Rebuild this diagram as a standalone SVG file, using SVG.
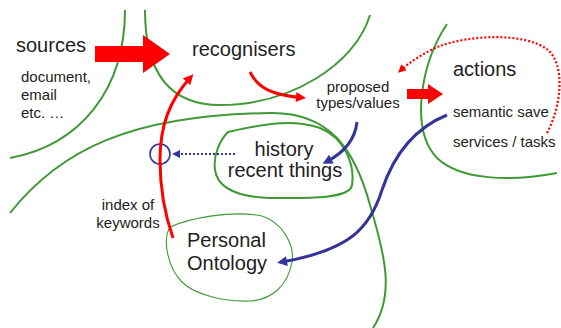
<svg xmlns="http://www.w3.org/2000/svg" width="561" height="328" viewBox="0 0 561 328">
<style>
.g{fill:none;stroke:#3f9a35;stroke-width:2}
.gt{fill:none;stroke:#3f9a35;stroke-width:1.1}
.r{fill:none;stroke:#ff0000;stroke-width:3}
.rd{fill:none;stroke:#ff0000;stroke-width:2.2;stroke-dasharray:2 2}
.b{fill:none;stroke:#33339a;stroke-width:3}
.bd{fill:none;stroke:#33339a;stroke-width:2.2;stroke-dasharray:2 2}
text{font-family:"Liberation Sans",Arial,sans-serif;fill:#222}
.L{font-size:20px}
.S{font-size:15px}
</style>
<defs>
<marker id="ar" viewBox="0 0 10 10" refX="5" refY="5" markerWidth="11" markerHeight="10" markerUnits="userSpaceOnUse" orient="auto"><path d="M0,0L10,5L0,10z" fill="#ff0000"/></marker>
<marker id="ars" viewBox="0 0 10 10" refX="5" refY="5" markerWidth="9" markerHeight="8" markerUnits="userSpaceOnUse" orient="auto"><path d="M0,0L10,5L0,10z" fill="#ff0000"/></marker>
<marker id="ab" viewBox="0 0 10 10" refX="5" refY="5" markerWidth="11" markerHeight="10" markerUnits="userSpaceOnUse" orient="auto"><path d="M0,0L10,5L0,10z" fill="#33339a"/></marker>
<marker id="abs" viewBox="0 0 10 10" refX="5" refY="5" markerWidth="9" markerHeight="8" markerUnits="userSpaceOnUse" orient="auto"><path d="M0,0L10,5L0,10z" fill="#33339a"/></marker>
</defs>
<g id="regions">
<path class="g" d="M125,10 C125,90 80,145 10,158"/>
<path class="g" d="M145,10 C145,80 175,105 220,105 C290,105 355,65 370,15"/>
<path class="g" d="M10,213 C60,150 130,115 270,113 C330,112 355,150 370,205 C385,255 395,295 373,328"/>
<path class="g" d="M447,24 C420,65 410,130 437,158 C460,180 510,182 557,173"/>
</g>
<g id="sources">
<text class="L" x="16" y="52">sources</text>
<text class="S" x="21" y="82">document,</text>
<text class="S" x="21" y="100">email</text>
<text class="S" x="21" y="118">etc. …</text>
</g>
<g id="recognisers">
<text class="L" x="192" y="56">recognisers</text>
</g>
<g id="proposed">
<text class="S" x="358" y="92" text-anchor="middle">proposed</text>
<text class="S" x="358" y="108" text-anchor="middle">types/values</text>
</g>
<g id="actions">
<text class="L" x="453" y="76">actions</text>
<text class="S" x="453" y="117">semantic save</text>
<text class="S" x="453" y="147">services / tasks</text>
</g>
<g id="history">
<path class="g" d="M228,132 C260,125 290,118 320,128 C345,138 355,165 352,185 C350,200 300,198 270,198 C240,197 218,190 215,170 C213,155 220,140 228,132 Z"/>
<text class="L" x="284" y="156" text-anchor="middle">history</text>
<text class="L" x="285" y="177" text-anchor="middle">recent things</text>
</g>
<g id="ontology">
<path class="gt" d="M170,227 C190,218 232,210 262,216 C282,222 295,245 292,262 C288,285 272,300 250,301 C225,302 195,295 182,282 C168,268 162,240 170,227 Z"/>
<text class="L" x="187" y="247">Personal</text>
<text class="L" x="187" y="270">Ontology</text>
</g>
<g id="index">
<circle cx="160" cy="154" r="10" fill="none" stroke="#33339a" stroke-width="1.6"/>
<text class="S" x="128" y="210" text-anchor="middle">index of</text>
<text class="S" x="128" y="228" text-anchor="middle">keywords</text>
</g>
<g id="connectors">
<polygon points="95,46 143,46 143,35 170,54 143,73 143,62 95,62" fill="#ff0000"/>
<polygon points="407,89 428,89 428,84 443,94 428,104 428,99 407,99" fill="#ff0000"/>
<path class="r" d="M250,72 C258,88 272,95 301,97.5" marker-end="url(#ar)"/>
<path class="r" d="M173,238 C165,215 160,190 160,160 C160,125 170,100 190,78" marker-end="url(#ar)"/>
<path class="rd" d="M547,133 C562,105 565,65 548,50 C525,32 470,35 440,46 C425,52 410,62 401,70" marker-end="url(#ars)"/>
<path class="bd" d="M235,154 L176,154" marker-end="url(#abs)"/>
<path class="b" d="M357,122 C355,140 345,152 327,161.5" marker-end="url(#ab)"/>
<path class="b" d="M447,115 C410,130 392,160 382,190 C370,228 350,250 282,262" marker-end="url(#ab)"/>
</g>
</svg>
